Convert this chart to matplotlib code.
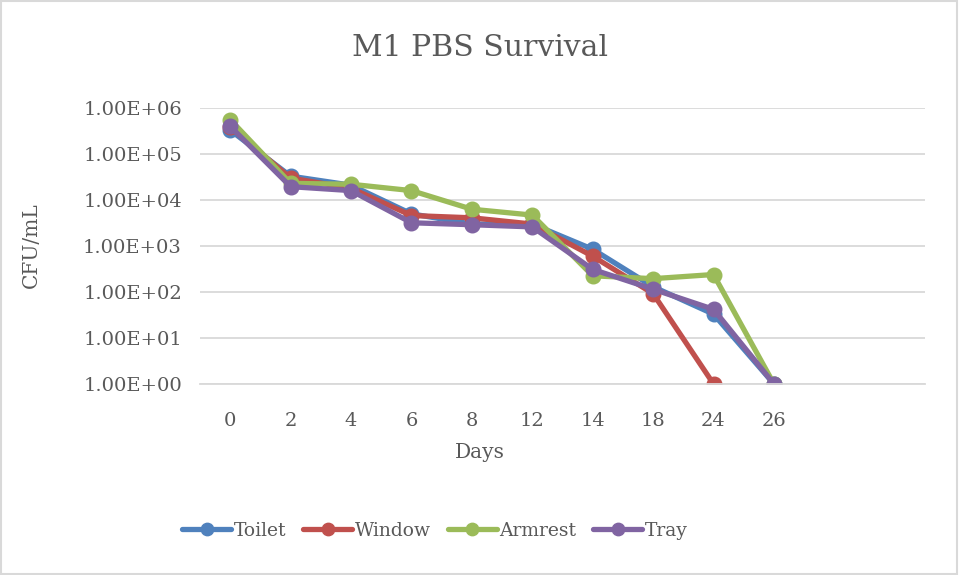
import matplotlib.pyplot as plt
from matplotlib.patches import Rectangle
from matplotlib.ticker import FixedLocator, NullLocator

# 데이터
days = ["0", "2", "4", "6", "8", "12", "14", "18", "24", "26", "", ""]
toilet = [3.3e5, 3.3e4, 2.1e4, 5.0e3, 3.0e3, 3.0e3, 850, 130, 33, 1]
window = [3.8e5, 3.0e4, 1.8e4, 4.6e3, 4.1e3, 3.0e3, 600, 92, 1]
armrest = [5.6e5, 2.3e4, 2.2e4, 1.6e4, 6.3e3, 4.7e3, 225, 195, 240, 1]
tray = [4.0e5, 1.95e4, 1.6e4, 3.2e3, 2.9e3, 2.6e3, 310, 115, 42, 1]

series = [
    ("Toilet", toilet, "#4F81BD"),
    ("Window", window, "#C0504D"),
    ("Armrest", armrest, "#9BBB59"),
    ("Tray", tray, "#8064A2"),
]

text_color = "#595959"
plt.rcParams['font.family'] = ['DejaVu Serif']

fig = plt.figure(figsize=(9.59, 5.75), dpi=100)
ax = fig.add_axes([200 / 959, 1 - 384 / 575, 725 / 959, 276 / 575])

for name, values, color in series:
    ax.plot(range(len(values)), values, color=color, linewidth=3.8,
            marker='o', markersize=10.5, label=name, solid_capstyle='round')

ax.set_yscale('log')
ax.set_ylim(1, 1e6)
ax.set_xlim(-0.5, len(days) - 0.5)
ax.yaxis.set_major_locator(FixedLocator([10 ** k for k in range(7)]))
ax.yaxis.set_minor_locator(NullLocator())
ax.set_yticklabels([f"1.00E+{k:02d}" for k in range(7)])
ax.set_xticks(range(len(days)))
ax.set_xticklabels(days)

ax.grid(True, axis='y', color='#D9D9D9', linewidth=1.3)
ax.set_axisbelow(True)
for side in ['top', 'right', 'left']:
    ax.spines[side].set_visible(False)
ax.spines['bottom'].set_color('#D9D9D9')
ax.spines['bottom'].set_linewidth(1.3)
ax.tick_params(axis='y', length=0, labelsize=14, colors=text_color, pad=13)
ax.tick_params(axis='x', length=0, labelsize=14, colors=text_color, pad=20)

fig.text(480 / 959, 1 - 48 / 575, "M1 PBS Survival", fontsize=21.5, color=text_color,
         ha='center', va='center')
fig.text(480 / 959, 1 - 453 / 575, "Days", fontsize=14.5, color=text_color,
         ha='center', va='center')
fig.text(31 / 959, 1 - 245 / 575, "CFU/mL", fontsize=14.5, color=text_color,
         ha='center', va='center', rotation=90)

fig.legend(loc='center', bbox_to_anchor=(435 / 959, 1 - 531 / 575), ncol=4,
           frameon=False, fontsize=13.5, labelcolor=text_color,
           handlelength=2.6, handletextpad=0.15, columnspacing=0.9,
           markerscale=0.85)

# 차트 테두리
fig.patches.append(Rectangle((0.001, 0.001), 0.997, 0.997, transform=fig.transFigure,
                             fill=False, edgecolor='#D9D9D9', linewidth=1.5))

fig.savefig("out.png", dpi=100)
